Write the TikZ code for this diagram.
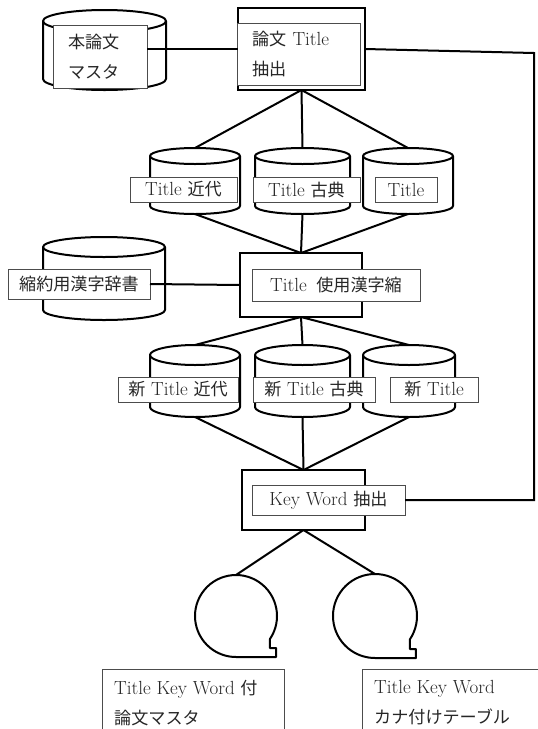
\documentclass[tikz,border=0pt]{standalone}
\usepackage{fontspec}
\newfontfamily\jpf{Noto Sans CJK JP}[Scale=0.9]
\newcommand\jpt[1]{{\jpf #1}}
\tikzset{
  box/.style={draw=black, line width=2.2pt, inner sep=0pt, outer sep=0pt},
  lbl/.style={draw=black!70, line width=0.9pt, fill=white, inner sep=0pt, outer sep=0pt,
              font=\fontsize{19}{22}\selectfont, text=black!85},
  two/.style={align=left, font=\fontsize{19}{30}\selectfont, text=black!85},
  cylline/.style={line width=2pt, line join=round},
  conn/.style={line width=2pt},
  openbox/.style={draw=black!70, line width=0.9pt},
}
\newcommand\cylshape[6]{% name, cx, top, bottom, half width, ry
  \node[inner sep=0pt, outer sep=0pt, minimum width={2*#5}, minimum height={#4-#3}] (#1) at (#2,{-(#3+#4)/2}) {};
  \draw[cylline, fill=white] ({#2-#5},{-#3-#6}) -- ({#2-#5},{-#4+#6})
     arc[start angle=180, end angle=360, x radius=#5, y radius=#6] -- ({#2+#5},{-#3-#6});
  \draw[cylline, fill=white] (#2,{-#3-#6}) ellipse[x radius=#5, y radius=#6];
}
\newcommand\reel[4]{% name, cx, cy, r
  \node[circle, inner sep=0pt, outer sep=0pt, minimum size={2*#4}] (#1) at (#2,-#3) {};
  \draw[cylline] (#1.-34) arc[start angle=-34, end angle=270, radius=#4]
     -- ({#2+0.976*#4},{-#3-#4}) -- ({#2+0.976*#4},{-#3-#4+9})
     -- ({#2+0.829*#4},{-#3-#4+9}) -- cycle;
}
\begin{document}
\begin{tikzpicture}[x=1pt,y=1pt]
\useasboundingbox (0,0) rectangle (538,-729);

% ---------- row 1 ----------
\cylshape{m0}{104.5}{10}{90}{61.5}{11}
\node[lbl, two, minimum width=94, minimum height=63, text width=64] (m0l) at (100,-56.5)
   {\jpt{本論文}\\\jpt{マスタ}};
\node[box, minimum width=127, minimum height=82] (p1) at (301.5,-49) {};
\node[lbl, two, minimum width=123, minimum height=62, text width=93] (p1l) at (298.5,-54)
   {\jpt{論文} Title\\\jpt{抽出}};

% ---------- row 2 cylinders ----------
\cylshape{c2a}{195}{148}{214}{45}{8}
\cylshape{c2b}{302.5}{148}{214}{47.5}{8}
\cylshape{c2c}{408}{148}{214}{45}{8}
\node[lbl, minimum width=107, minimum height=25] (c2al) at (183.5,-189.5) {Title \jpt{近代}};
\node[lbl, minimum width=107, minimum height=25] (c2bl) at (306.5,-189.5) {Title \jpt{古典}};
\node[lbl, minimum width=62, minimum height=25] (c2cl) at (406,-189.5) {Title};

% ---------- row 3 ----------
\cylshape{dict}{104}{237}{320}{61}{10}
\node[lbl, minimum width=142, minimum height=30] (dictl) at (79,-284) {\jpt{縮約用漢字辞書}};
\node[box, minimum width=122, minimum height=64] (p2) at (301,-285) {};
\node[lbl, minimum width=168, minimum height=32] (p2l) at (336,-285) {Title\hspace{0.5em}\jpt{使用漢字縮}};

% ---------- row 4 cylinders ----------
\cylshape{c4a}{195}{345}{417}{45}{10}
\cylshape{c4b}{302.5}{345}{417}{47.5}{10}
\cylshape{c4c}{409}{345}{417}{46}{10}
\node[lbl, minimum width=120, minimum height=25] (c4al) at (178,-389.5) {\jpt{新} Title \jpt{近代}};
\node[lbl, minimum width=122, minimum height=25] (c4bl) at (314,-389.5) {\jpt{新} Title \jpt{古典}};
\node[lbl, minimum width=88, minimum height=25] (c4cl) at (434,-389.5) {\jpt{新} Title};

% ---------- row 5 ----------
\node[box, minimum width=123, minimum height=60] (kw) at (303.5,-500) {};
\node[lbl, minimum width=153, minimum height=30] (kwl) at (328.5,-500) {Key Word \jpt{抽出}};

% ---------- tapes ----------
\reel{t1}{236}{616}{41}
\reel{t2}{375}{616}{42}

% ---------- output boxes ----------
\node[inner sep=0pt, outer sep=0pt, anchor=north west, minimum width=182, minimum height=60] (o1) at (102,-669) {};
\node[inner sep=0pt, outer sep=0pt, anchor=north west, minimum width=180, minimum height=60] (o2) at (362,-669) {};
\draw[openbox] (o1.south west) -- (o1.north west) -- (o1.north east) -- (o1.south east);
\draw[openbox] (o2.south west) -- (o2.north west) -- (o2.north east);
\node[two, anchor=west, inner sep=0pt] (o1t) at (114,-703) {Title Key Word \jpt{付}\\\jpt{論文マスタ}};
\node[two, anchor=west, inner sep=0pt] (o2t) at (374,-703) {Title Key Word\\\jpt{カナ付けテーブル}};

% ---------- connectors ----------
\draw[conn] (m0l.east |- p1.west) -- (p1.west);
\draw[conn] (p1.south) -- (c2a.north);
\draw[conn] (p1.south) -- (c2b.north);
\draw[conn] (p1.south) -- (c2c.north);
\draw[conn] (c2a.south) -- (p2.north);
\draw[conn] (c2b.south) -- (p2.north);
\draw[conn] (c2c.south) -- (p2.north);
\draw[conn] (dictl.east) -- (p2.west);
\draw[conn] (p2.south) -- (c4a.north);
\draw[conn] (p2.south) -- (c4b.north);
\draw[conn] (p2.south) -- (c4c.north);
\draw[conn] (c4a.south) -- (kw.north);
\draw[conn] (c4b.south) -- (kw.north);
\draw[conn] (c4c.south) -- (kw.north);
\draw[conn] (kw.south) -- (t1.north);
\draw[conn] (kw.south) -- (t2.north);
\coordinate (fb1) at (534,-53);
\coordinate (fb2) at (534,-500);
\draw[conn] (p1.east) -- (fb1) -- (fb2) -- (kwl.east);
\end{tikzpicture}
\end{document}
